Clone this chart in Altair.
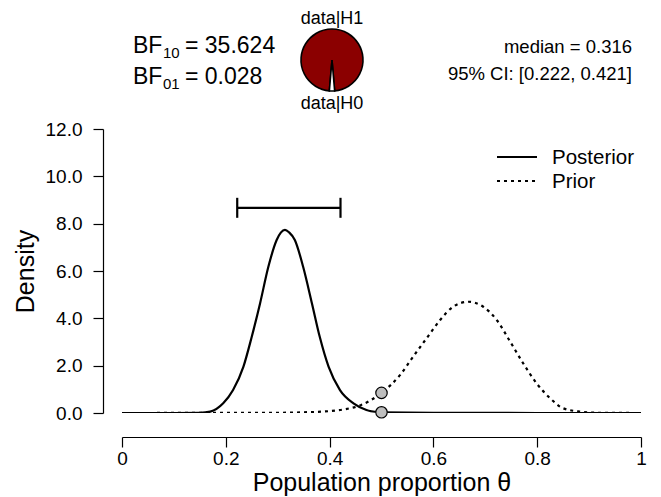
import math
import altair as alt
import pandas as pd

# ---- data ----
post_theta = [0.0, 0.10, 0.15, 0.170, 0.195, 0.214, 0.234, 0.250, 0.266, 0.282, 0.298, 0.306,
              0.314, 0.322, 0.333, 0.349, 0.366, 0.381, 0.398, 0.420, 0.446, 0.471, 0.494,
              0.50, 0.60, 0.80, 1.0]
post_dens = [0.0, 0.0, 0.01, 0.06, 0.41, 0.97, 1.96, 3.22, 4.63, 6.18, 7.31, 7.62,
             7.74, 7.63, 7.31, 6.18, 4.63, 3.22, 1.96, 0.97, 0.41, 0.13, 0.04,
             0.03, 0.01, 0.0, 0.0]

prior_theta = [0.0, 0.30, 0.35, 0.40, 0.43, 0.46, 0.48, 0.50, 0.536, 0.561, 0.587, 0.613,
               0.638, 0.667, 0.696, 0.722, 0.748, 0.773, 0.799, 0.825, 0.850, 0.882, 0.92, 1.0]
prior_dens = [0.0, 0.01, 0.03, 0.08, 0.16, 0.33, 0.55, 0.85, 1.61, 2.38, 3.16, 3.93,
              4.49, 4.70, 4.49, 3.93, 3.01, 2.10, 1.25, 0.62, 0.20, 0.06, 0.01, 0.0]

point_theta = [0.5, 0.5]
point_dens = [0.85, 0.03]

ci_lower, ci_upper, ci_height = 0.222, 0.421, 8.67

bf10_text = "35.624"
bf01_text = "0.028"
bf10 = 35.624
median_text = "median = 0.316"
ci_text = "95% CI: [0.222, 0.421]"

pie_labels = ["H1", "H0"]
pie_values = [bf10, 1.0]
pie_top_label = "data|H1"
pie_bottom_label = "data|H0"

legend_labels = ["Posterior", "Prior"]

x_ticks = [0, 0.2, 0.4, 0.6, 0.8, 1.0]
y_ticks = [0, 2, 4, 6, 8, 10, 12]

FONT = "Liberation Sans"
W, H = 519, 284

curves = pd.concat([
    pd.DataFrame({"theta": post_theta, "dens": post_dens, "kind": "Posterior"}),
    pd.DataFrame({"theta": prior_theta, "dens": prior_dens, "kind": "Prior"}),
])

xs = alt.Scale(domain=[0, 1], nice=False, zero=False)
ys = alt.Scale(domain=[0, 12], nice=False)

x_axis = alt.Axis(values=x_ticks, format=".1~f", title="Population proportion θ",
                  offset=24, tickSize=10, labelPadding=2, titlePadding=2, labelFlush=False,
                  labelFontSize=19, titleFontSize=25, grid=False)
y_axis = alt.Axis(values=y_ticks, format=".1f", title="Density",
                  offset=19, tickSize=10, labelPadding=11, titlePadding=7, labelFlush=False,
                  labelFontSize=19, titleFontSize=25, grid=False)

post_line = alt.Chart(curves[curves.kind == "Posterior"]).mark_line(
    color="black", strokeWidth=2.2, interpolate="monotone", clip=True
).encode(
    x=alt.X("theta:Q", scale=xs, axis=x_axis),
    y=alt.Y("dens:Q", scale=ys, axis=y_axis),
)

prior_line = alt.Chart(curves[curves.kind == "Prior"]).mark_line(
    color="black", strokeWidth=2.2, strokeDash=[3, 4], interpolate="monotone", clip=True
).encode(
    x=alt.X("theta:Q", scale=xs),
    y=alt.Y("dens:Q", scale=ys),
)

pts = alt.Chart(pd.DataFrame({"theta": point_theta, "dens": point_dens})).mark_point(
    filled=True, fill="#BEBEBE", stroke="black", strokeWidth=1.2, size=130, opacity=1
).encode(x=alt.X("theta:Q", scale=xs), y=alt.Y("dens:Q", scale=ys))

ci_df = pd.DataFrame({"lo": [ci_lower], "hi": [ci_upper], "h": [ci_height]})
ci_bar = alt.Chart(ci_df).mark_rule(color="black", strokeWidth=2.2).encode(
    x=alt.X("lo:Q", scale=xs), x2="hi:Q", y=alt.Y("h:Q", scale=ys)
)
ci_ends = alt.Chart(pd.DataFrame({"x": [ci_lower, ci_upper], "h": [ci_height, ci_height]})).mark_rule(
    color="black", strokeWidth=2.2, yOffset=-10, y2Offset=10
).encode(x=alt.X("x:Q", scale=xs), y=alt.Y("h:Q", scale=ys), y2="h:Q")

# ---- annotations above the plot (pixel offsets from plot origin) ----
def txt(s, x, y, size, align="left", baseline="alphabetic"):
    return alt.Chart(pd.DataFrame({"t": [s]})).mark_text(
        font=FONT, fontSize=size, align=align, baseline=baseline, color="black"
    ).encode(text="t:N", x=alt.value(x), y=alt.value(y))

ann = [
    txt("BF", 11, -76, 23), txt("10", 41, -71, 15), txt("= " + bf10_text, 63, -76, 23),
    txt("BF", 11, -45, 23), txt("01", 41, -40, 15), txt("= " + bf01_text, 63, -45, 23),
    txt(median_text, 510, -76, 18.5, align="right"),
    txt(ci_text, 510, -49, 18.5, align="right"),
    txt(pie_top_label, 210, -105, 18, align="center"),
    txt(pie_bottom_label, 210, -20, 18, align="center"),
    txt(legend_labels[0], 430, 35, 20.5),
    txt(legend_labels[1], 430, 59, 20.5),
]

total = sum(pie_values)
delta = 2 * math.pi * pie_values[1] / total
start = math.pi + delta / 2
pie = alt.Chart(pd.DataFrame({"k": pie_labels, "v": pie_values, "o": [0, 1]})).mark_arc(
    radius=31, stroke="black", strokeWidth=1.6
).encode(
    theta=alt.Theta("v:Q", stack=True, scale=alt.Scale(range=[start, start + 2 * math.pi])),
    color=alt.Color("k:N", scale=alt.Scale(domain=pie_labels, range=["#8B0000", "white"]), legend=None),
    order=alt.Order("o:Q"),
    x=alt.value(210), y=alt.value(-69),
)

leg_solid = alt.Chart(pd.DataFrame({"t": [legend_labels[0]]})).mark_rule(color="black", strokeWidth=2.2).encode(
    x=alt.value(375), x2=alt.value(415), y=alt.value(28))
leg_dash = alt.Chart(pd.DataFrame({"t": [legend_labels[1]]})).mark_rule(
    color="black", strokeWidth=2.2, strokeDash=[3, 4]).encode(
    x=alt.value(375), x2=alt.value(415), y=alt.value(52))

chart = alt.layer(
    prior_line, post_line, pts, ci_bar, ci_ends, pie, leg_solid, leg_dash, *ann
).properties(
    width=W, height=H,
    autosize=alt.AutoSizeParams(type="none"),
    padding={"left": 114, "top": 121, "right": 12, "bottom": 84},
).configure_view(stroke=None).configure_axis(
    domainColor="black", tickColor="black", labelColor="black", titleColor="black",
    labelFont=FONT, titleFont=FONT, titleFontWeight="normal", domainWidth=1.2, tickWidth=1.2
)

chart.save("out.html", embed_options={"renderer": "svg", "actions": False})
